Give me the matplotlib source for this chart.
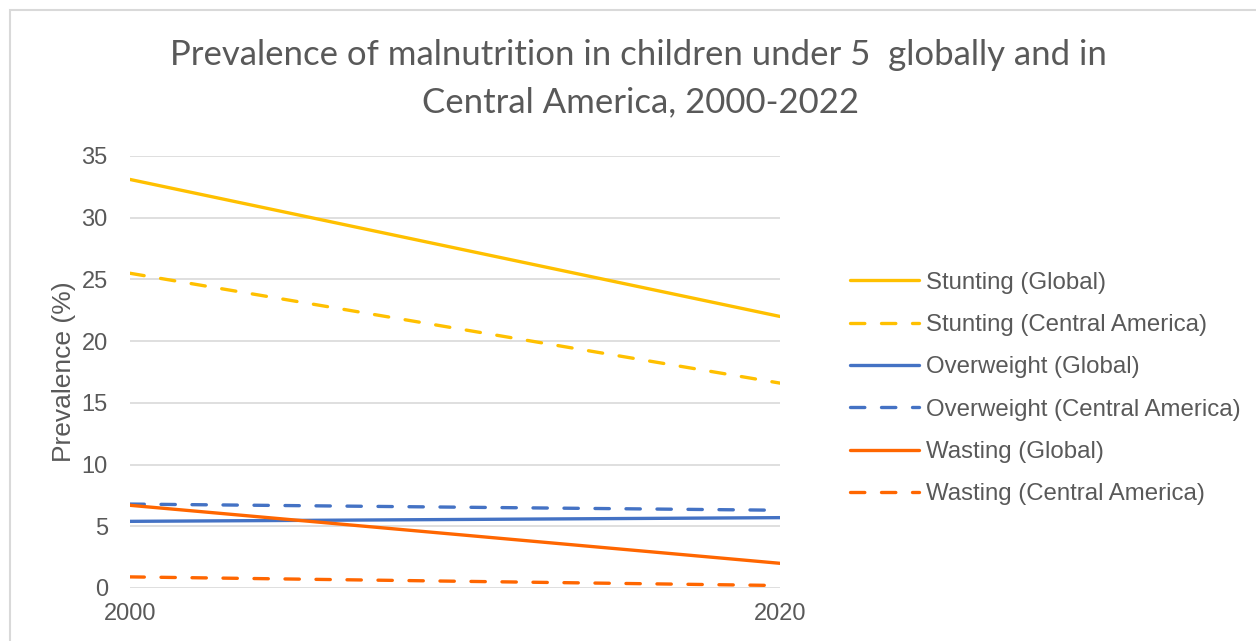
import matplotlib
matplotlib.use("Agg")
import matplotlib.pyplot as plt
import matplotlib.patches as mpatches

# Malnutrition prevalence in children under 5, endpoints 2000 and 2020
years = [2000, 2020]
stunting_global = [33.1, 22.0]
stunting_ca = [25.5, 16.6]
overweight_global = [5.4, 5.7]
overweight_ca = [6.8, 6.3]
wasting_global = [6.7, 2.0]
wasting_ca = [0.9, 0.2]

series_labels = [
    "Stunting (Global)",
    "Stunting (Central America)",
    "Overweight (Global)",
    "Overweight (Central America)",
    "Wasting (Global)",
    "Wasting (Central America)",
]
y_ticks = [0, 5, 10, 15, 20, 25, 30, 35]

CLR_YELLOW = "#FFC000"
CLR_BLUE = "#4472C4"
CLR_ORANGE = "#FF6600"
CLR_TEXT = "#595959"
CLR_GRID = "#D9D9D9"

plt.rcParams["font.family"] = ["Liberation Sans", "DejaVu Sans"]

fig = plt.figure(figsize=(12.56, 6.41), dpi=100)
ax = fig.add_axes([130 / 1256, 1 - 588 / 641, 650 / 1256, 432 / 641])

# chart area border
fig.patches.append(mpatches.Rectangle((10 / 1256, -0.05), 1.1, 1 - 10 / 641 + 0.05,
                                      transform=fig.transFigure, fill=False,
                                      edgecolor=CLR_GRID, linewidth=1.5))

dash = dict(linestyle=(0, (4.3, 5.0)), dash_capstyle="round")
lw = 2.4
series = [
    (stunting_global, CLR_YELLOW, {}),
    (stunting_ca, CLR_YELLOW, dash),
    (overweight_global, CLR_BLUE, {}),
    (overweight_ca, CLR_BLUE, dash),
    (wasting_global, CLR_ORANGE, {}),
    (wasting_ca, CLR_ORANGE, dash),
]
handles = []
for (vals, color, style), label in zip(series, series_labels):
    h, = ax.plot(years, vals, color=color, linewidth=lw, label=label,
                 solid_capstyle="round", **style)
    handles.append(h)

ax.set_xlim(2000, 2020)
ax.set_ylim(0, 35)
ax.set_xticks(years)
ax.set_yticks(y_ticks)
ax.yaxis.grid(True, color=CLR_GRID, linewidth=1.2)
ax.set_axisbelow(True)
for spine in ax.spines.values():
    spine.set_visible(False)
ax.tick_params(length=0, labelsize=17, colors=CLR_TEXT)
ax.tick_params(axis="y", pad=16)
ax.tick_params(axis="x", pad=11)
ax.set_ylabel("Prevalence (%)", fontsize=19, color=CLR_TEXT, labelpad=4)

title_font = dict(ha="center", va="center", fontsize=25, color=CLR_TEXT,
                  family=["Lato", "DejaVu Sans"])
fig.text(638 / 1256, 1 - 55 / 641, "Prevalence of malnutrition in children under 5  globally and in",
         **title_font)
fig.text(640 / 1256, 1 - 102 / 641, "Central America, 2000-2022", **title_font)

fig.legend(handles=handles, loc="upper left", bbox_to_anchor=(840 / 1256, 1 - 262 / 641),
           frameon=False, fontsize=17.25, labelcolor=CLR_TEXT, handlelength=2.9,
           handletextpad=0.3, labelspacing=0.85, borderaxespad=0)

fig.savefig("out.png", dpi=100, facecolor="white")
